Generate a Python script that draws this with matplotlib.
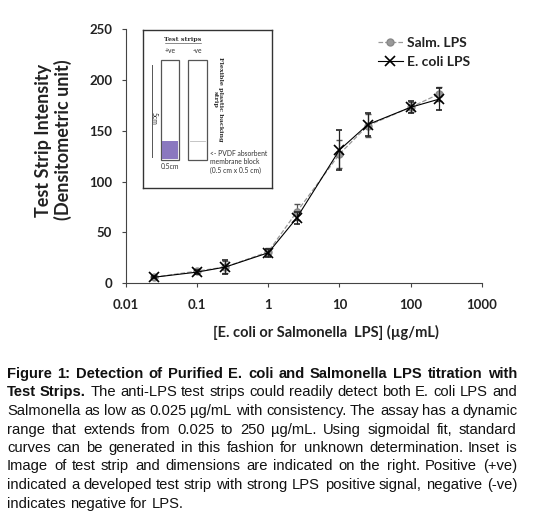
import matplotlib
matplotlib.use("Agg")
import matplotlib.pyplot as plt
from matplotlib.patches import Rectangle

# LPS concentration (ug/mL) and strip intensities
conc = [0.025, 0.1, 0.25, 1, 2.5, 10, 25, 100, 250]
salm = [6, 12, 16, 31, 70, 127, 155, 173, 186]
salm_err = [1, 2, 6, 4, 8, 14, 11, 5, 7]
ecoli = [6, 11, 16, 30, 64, 131, 156, 173, 181]
ecoli_err = [1, 2, 7, 4, 6, 20, 11, 6, 11]

x_ticks = [0.01, 0.1, 1, 10, 100, 1000]
x_tick_labels = ["0.01", "0.1", "1", "10", "100", "1000"]
y_ticks = [0, 50, 100, 150, 200, 250]

caption_lines = [
    [("Figure 1: Detection of Purified E. coli and Salmonella LPS titration with", True)],
    [("Test Strips.", True), ("The anti-LPS test strips could readily detect both E. coli LPS and", False)],
    [("Salmonella as low as 0.025 \u00b5g/mL with consistency. The assay has a dynamic", False)],
    [("range that extends from 0.025 to 250 \u00b5g/mL. Using sigmoidal fit, standard", False)],
    [("curves can be generated in this fashion for unknown determination. Inset is", False)],
    [("Image of test strip and dimensions are indicated on the right. Positive (+ve)", False)],
    [("indicated a developed test strip with strong LPS positive signal, negative (-ve)", False)],
    [("indicates negative for LPS.", False)],
]

W, H = 536, 518
fig = plt.figure(figsize=(W / 100, H / 100), dpi=100)
plot_font = "Lato"

ax = fig.add_axes([126 / W, 1 - 283.3 / H, 355.7 / W, 254.3 / H])
eb_s = ax.errorbar(conc, salm, yerr=salm_err, color="#999999", ls="--", lw=0.9,
                   marker="o", ms=5, mfc="#999999", mec="#888888",
                   ecolor="#555555", elinewidth=0.9, capsize=2.5, label="Salm. LPS", zorder=2)
eb_e = ax.errorbar(conc, ecoli, yerr=ecoli_err, color="black", ls="-", lw=0.8,
                   marker="x", ms=7, mew=1.2,
                   ecolor="#222222", elinewidth=0.9, capsize=2.5, label="E. coli LPS", zorder=3)

ax.set_xscale("log")
ax.set_xlim(0.01, 1000)
ax.set_ylim(0, 250)
ax.set_xticks(x_ticks)
ax.set_xticklabels(x_tick_labels)
ax.minorticks_off()
ax.set_yticks(y_ticks)
for s in ["top", "right"]:
    ax.spines[s].set_visible(False)
for s in ["left", "bottom"]:
    ax.spines[s].set_color("#444444")
ax.tick_params(axis="both", direction="out", length=3, color="#444444")
ax.tick_params(axis="x", pad=8)
ax.tick_params(axis="y", pad=7)
for lab in ax.get_xticklabels() + ax.get_yticklabels():
    lab.set_fontfamily(plot_font)
    lab.set_fontweight("bold")
    lab.set_fontsize(9.5)
    lab.set_color("#222222")

ax.set_ylabel("Test Strip Intensity\n(Densitometric unit)", fontfamily=plot_font,
              fontweight="bold", fontsize=13, color="#222222", linespacing=1.15)
ax.yaxis.set_label_coords(-0.152, 0.563)
ax.set_xlabel("[E. coli or Salmonella  LPS] (\u00b5g/mL)", fontfamily=plot_font,
              fontweight="bold", fontsize=10.5, color="#222222")
ax.xaxis.set_label_coords(0.561, -0.162)

leg = ax.legend(handles=[eb_s.lines[0], eb_e.lines[0]], labels=["Salm. LPS", "E. coli LPS"],
                loc="upper left", bbox_to_anchor=(371 / W, 1 - 30 / H),
                bbox_transform=fig.transFigure, frameon=False, borderpad=0,
                handlelength=1.8, handletextpad=0.3, labelspacing=0.5,
                prop={"family": plot_font, "weight": "bold", "size": 10})
for t in leg.get_texts():
    t.set_color("#222222")

# inset picture of the strips, drawn in pixel units of the figure
ins = fig.add_axes([142.7 / W, 1 - 188 / H, 129 / W, 158 / H])
ins.set_xlim(142.7, 271.7)
ins.set_ylim(188, 30)
ins.set_xticks([])
ins.set_yticks([])
for s in ins.spines.values():
    s.set_linewidth(1.0)
    s.set_color("#333333")
ins.set_zorder(5)
serif = dict(fontfamily="DejaVu Serif", fontsize=4.6, color="#333333")
sans = dict(fontfamily="Lato", fontsize=4.9, color="#333333")
ins.text(183, 39.5, "Test strips", ha="center", va="center", fontweight="bold", **serif)
ins.plot([165, 201], [43, 43], color="#333333", lw=0.4)
ins.text(170, 50.5, "+ve", ha="center", va="center", **sans)
ins.text(197, 50.5, "-ve", ha="center", va="center", **sans)
ins.add_patch(Rectangle((161.4, 60.3), 17.2, 99.4, fill=False, ec="#555555", lw=0.9))
ins.add_patch(Rectangle((162, 141.3), 16, 17.8, fc="#8a78bf", ec="none"))
ins.add_patch(Rectangle((188.4, 60.3), 18.1, 99.4, fill=False, ec="#555555", lw=0.9))
ins.plot([189.5, 205], [141.3, 141.3], color="#bbbbbb", lw=0.6)
ins.plot([151.6, 151.6], [64.7, 157.3], color="#555555", lw=0.7)
ins.text(154, 118, "5cm", ha="center", va="center", rotation=270, **sans)
ins.text(170, 166.5, "0.5cm", ha="center", va="center", **sans)
ins.text(217.5, 99, "Flexible plastic backing\nstrip", ha="center", va="center",
         rotation=270, fontweight="bold", linespacing=1.1, **serif)
ins.text(209.5, 162, "<- PVDF absorbent\nmembrane block\n(0.5 cm x 0.5 cm)",
         ha="left", va="center", linespacing=1.3, **sans)

# justified caption below the chart
cap_font = "Liberation Sans"
cap_size = 10.6
left, right = 7, 517
fig.canvas.draw()
renderer = fig.canvas.get_renderer()


def word_width(word, bold):
    t = fig.text(0, 0, word, fontfamily=cap_font, fontsize=cap_size,
                 fontweight="bold" if bold else "normal")
    w = t.get_window_extent(renderer).width
    t.remove()
    return w


space_w = word_width("a a", False) - 2 * word_width("a", False)
for i, line in enumerate(caption_lines):
    words = []
    for chunk, bold in line:
        words += [(w, bold) for w in chunk.split()]
    widths = [word_width(w, b) for w, b in words]
    if i < len(caption_lines) - 1:
        gap = (right - left - sum(widths)) / (len(words) - 1)
    else:
        gap = space_w
    y = round(378 + i * 18.5)
    x = left
    for (w, b), ww in zip(words, widths):
        fig.text(round(x) / W, 1 - y / H, w, fontfamily=cap_font, fontsize=cap_size,
                 fontweight="bold" if b else "normal", color="#111111",
                 ha="left", va="baseline")
        x += ww + gap

fig.savefig("out.png", dpi=100)
